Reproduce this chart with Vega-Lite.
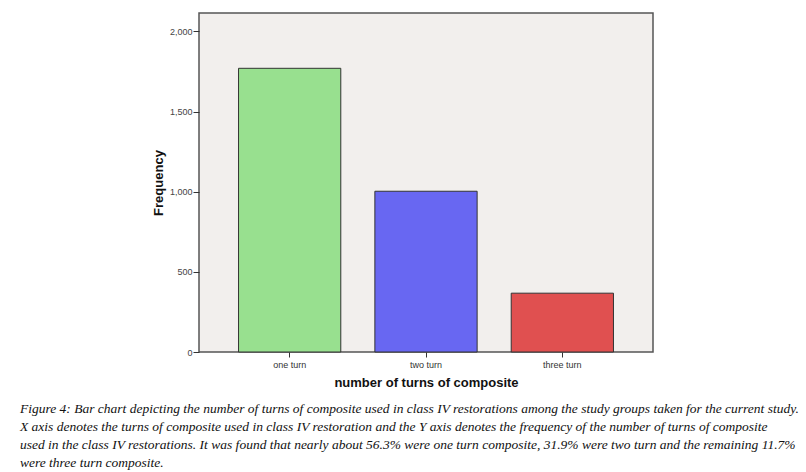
{
  "$schema": "https://vega.github.io/schema/vega-lite/v6.json",
  "width": 454,
  "height": 339,
  "autosize": {"type": "none"},
  "padding": {"left": 199, "top": 13, "right": 153, "bottom": 120},
  "background": "white",
  "data": {"values": [
    {"turns": "one turn", "frequency": 1770},
    {"turns": "two turn", "frequency": 1003},
    {"turns": "three turn", "frequency": 367}
  ]},
  "config": {
    "view": {"fill": "#f2efed", "stroke": "#555555", "strokeWidth": 1.5},
    "font": "Liberation Sans"
  },
  "title": {
    "text": [
      "Figure 4: Bar chart depicting the number of turns of composite used in class IV restorations among the study groups taken for the current study.",
      "X axis denotes the turns of composite used in class IV restoration and the Y axis denotes the frequency of the number of turns of composite",
      "used in the class IV restorations. It was found that nearly about 56.3% were one turn composite, 31.9% were two turn and the remaining 11.7%",
      "were three turn composite."
    ],
    "orient": "bottom",
    "anchor": "start",
    "frame": "group",
    "dx": -179,
    "offset": 13,
    "font": "Liberation Serif",
    "fontStyle": "italic",
    "fontWeight": "normal",
    "fontSize": 13.5,
    "lineHeight": 18,
    "color": "#111111"
  },
  "mark": {"type": "bar", "stroke": "#333333", "strokeWidth": 1},
  "encoding": {
    "x": {
      "field": "turns", "type": "nominal", "sort": ["one turn", "two turn", "three turn"],
      "scale": {"paddingInner": 0.25, "paddingOuter": 0.29},
      "axis": {
        "title": "number of turns of composite", "titleFont": "Liberation Sans", "titleFontSize": 13, "titleFontWeight": "bold", "titleColor": "#111111", "titlePadding": 7,
        "labelAngle": 0, "labelFontSize": 9, "labelColor": "#333333", "labelPadding": 3,
        "tickColor": "#333333", "tickSize": 5, "domain": false, "grid": false
      }
    },
    "y": {
      "field": "frequency", "type": "quantitative",
      "scale": {"domain": [0, 2115], "nice": false},
      "axis": {
        "title": "Frequency", "titleFont": "Liberation Sans", "titleFontSize": 13, "titleFontWeight": "bold", "titleColor": "#111111", "titlePadding": 4,
        "values": [0, 500, 1000, 1500, 2000], "format": ",d",
        "labelFontSize": 9, "labelColor": "#444444", "labelPadding": 1,
        "tickColor": "#333333", "tickSize": 6, "domain": false, "grid": false
      }
    },
    "color": {
      "field": "turns", "type": "nominal", "legend": null,
      "scale": {"domain": ["one turn", "two turn", "three turn"], "range": ["#98e08f", "#6867f2", "#e05050"]}
    }
  }
}
